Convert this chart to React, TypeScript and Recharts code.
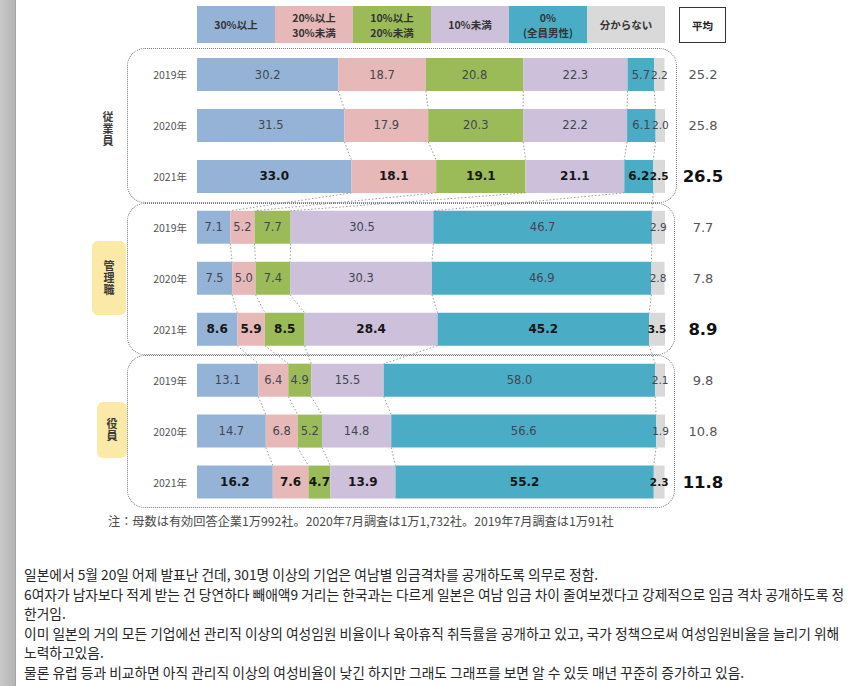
import React from 'react';
import { BarChart, Bar, XAxis, YAxis, LabelList, ReferenceLine } from 'recharts';

// ---------- data ----------
const rowIds = [
  '従業員-2019', '従業員-2020', '従業員-2021',
  '管理職-2019', '管理職-2020', '管理職-2021',
  '役員-2019', '役員-2020', '役員-2021',
];
const yearLabels = ['2019年', '2020年', '2021年', '2019年', '2020年', '2021年', '2019年', '2020年', '2021年'];
const groupLabels = ['従業員', '管理職', '役員'];

const over30 = [30.2, 31.5, 33.0, 7.1, 7.5, 8.6, 13.1, 14.7, 16.2];
const from20to30 = [18.7, 17.9, 18.1, 5.2, 5.0, 5.9, 6.4, 6.8, 7.6];
const from10to20 = [20.8, 20.3, 19.1, 7.7, 7.4, 8.5, 4.9, 5.2, 4.7];
const under10 = [22.3, 22.2, 21.1, 30.5, 30.3, 28.4, 15.5, 14.8, 13.9];
const zeroPct = [5.7, 6.1, 6.2, 46.7, 46.9, 45.2, 58.0, 56.6, 55.2];
const unknown = [2.2, 2.0, 2.5, 2.9, 2.8, 3.5, 2.1, 1.9, 2.3];
const averages = [25.2, 25.8, 26.5, 7.7, 7.8, 8.9, 9.8, 10.8, 11.8];

const seriesKeys = ['over30', 'from20to30', 'from10to20', 'under10', 'zeroPct', 'unknown'];
const seriesNames = ['30%以上', '20%以上\n30%未満', '10%以上\n20%未満', '10%未満', '0%\n(全員男性)', '分からない'];
const seriesColors = ['#95b3d7', '#e6b9b8', '#9bbb59', '#ccc0da', '#4bacc6', '#d9d9d9'];
const seriesValues = [over30, from20to30, from10to20, under10, zeroPct, unknown];

const averageTitle = '平均';
const noteText = '注：母数は有効回答企業1万992社。2020年7月調査は1万1,732社。2019年7月調査は1万91社';
const bodyLines = [
  '일본에서 5월 20일 어제 발표난 건데, 301명 이상의 기업은 여남별 임금격차를 공개하도록 의무로 정함.',
  '6여자가 남자보다 적게 받는 건 당연하다 빼애액9 거리는 한국과는 다르게 일본은 여남 임금 차이 줄여보겠다고 강제적으로 임금 격차 공개하도록 정',
  '한거임.',
  '이미 일본의 거의 모든 기업에선 관리직 이상의 여성임원 비율이나 육아휴직 취득률을 공개하고 있고, 국가 정책으로써 여성임원비율을 늘리기 위해',
  '노력하고있음.',
  '물론 유럽 등과 비교하면 아직 관리직 이상의 여성비율이 낮긴 하지만 그래도 그래프를 보면 알 수 있듯 매년 꾸준히 증가하고 있음.',
];

// ---------- derived table ----------
const data = rowIds.map((id, i) => {
  const row: any = { id, year: yearLabels[i], avg: averages[i] };
  seriesKeys.forEach((k, s) => { row[k] = seriesValues[s][i]; });
  return row;
});

const cumulative = (row: number, upto: number) => {
  let s = 0;
  for (let k = 0; k < upto; k++) s += seriesValues[k][row];
  return s;
};

const connectors: { x1: number; y1: string; x2: number; y2: string }[] = [];
for (let i = 0; i < rowIds.length - 1; i++) {
  for (let k = 1; k < seriesKeys.length; k++) {
    connectors.push({ x1: cumulative(i, k), y1: rowIds[i], x2: cumulative(i + 1, k), y2: rowIds[i + 1] });
  }
}

// ---------- style ----------
const BAR = 33;
const JP = '"Noto Sans CJK JP", "Noto Sans", sans-serif';
const NUM = '"DejaVu Sans", sans-serif';

const isBoldRow = (i: number) => i % 3 === 2;

const renderBarLabel = (props: any) => {
  const vb = props.viewBox || props;
  const x = Number(vb.x), y = Number(vb.y), w = Number(vb.width), h = Number(vb.height);
  const idx = props.index ?? 0;
  const bold = isBoldRow(idx);
  const narrow = w < 18;
  return (
    <text
      x={x + w / 2}
      y={y + h / 2}
      textAnchor="middle"
      dominantBaseline="central"
      fontFamily={NUM}
      fontSize={narrow ? 10.5 : bold ? 12 : 11.5}
      fontWeight={bold ? 'bold' : 'normal'}
      fill={bold ? '#161616' : '#424650'}
    >
      {Number(props.value).toFixed(1)}
    </text>
  );
};

const YearTick = (props: any) => {
  const { x, y, payload } = props;
  const idx = payload.index ?? rowIds.indexOf(payload.value);
  return (
    <text x={x} y={y} textAnchor="end" dominantBaseline="central" fontFamily={JP} fontSize={10.5} fill="#555">
      {yearLabels[idx]}
    </text>
  );
};

const AvgTick = (props: any) => {
  const { x, y, payload } = props;
  const idx = payload.index ?? rowIds.indexOf(payload.value);
  const bold = isBoldRow(idx);
  return (
    <text
      x={x + 38}
      y={y}
      textAnchor="middle"
      dominantBaseline="central"
      fontFamily={NUM}
      fontSize={bold ? 16.5 : 13}
      fontWeight={bold ? 'bold' : 'normal'}
      fill={bold ? '#111' : '#555'}
    >
      {averages[idx].toFixed(1)}
    </text>
  );
};

const connectorShape = (p: any) => (
  <line
    x1={p.x1}
    y1={p.y1 + BAR / 2}
    x2={p.x2}
    y2={p.y2 - BAR / 2}
    stroke="#9a9a9a"
    strokeWidth={1}
    strokeDasharray="1.5 2"
  />
);

const groupBoxes = [
  { left: 127, top: 48, width: 550, height: 155 },
  { left: 127, top: 203, width: 548, height: 152 },
  { left: 127, top: 355, width: 548, height: 153 },
];

const groupTags = [
  { left: 96, top: 108, width: 24, height: 42, bg: 'transparent' },
  { left: 92, top: 241, width: 34, height: 74, bg: '#fbe9a8' },
  { left: 97, top: 402, width: 30, height: 56, bg: '#fbe9a8' },
];

export default function App() {
  return (
    <div style={{ position: 'absolute', left: 0, top: 0, width: 850, height: 686, background: '#fff', overflow: 'hidden' }}>
      {/* left gray frame strip */}
      <div style={{ position: 'absolute', left: 0, top: 0, width: 15, height: 686, background: 'linear-gradient(to right, #c9c9c9, #b4b4b4)', borderRight: '1px solid #a5a5a5' }} />

      {/* legend */}
      <div style={{ position: 'absolute', left: 197, top: 6, width: 468, height: 37, display: 'flex' }}>
        {seriesNames.map((n, i) => (
          <div
            key={i}
            style={{
              flex: 1,
              background: seriesColors[i],
              display: 'flex',
              alignItems: 'center',
              justifyContent: 'center',
              textAlign: 'center',
              whiteSpace: 'pre-line',
              fontFamily: JP,
              fontSize: 10.5,
              fontWeight: 'bold',
              lineHeight: '15px',
              color: '#333',
            }}
          >
            {n}
          </div>
        ))}
      </div>
      <div
        style={{
          position: 'absolute', left: 679, top: 7, width: 45, height: 34,
          border: '1.5px solid #333', display: 'flex', alignItems: 'center', justifyContent: 'center',
          fontFamily: JP, fontSize: 10.5, fontWeight: 'bold', color: '#222', background: '#fff',
        }}
      >
        {averageTitle}
      </div>

      {/* group tags */}
      {groupTags.map((g, i) => (
        <div
          key={i}
          style={{
            position: 'absolute', left: g.left, top: g.top, width: g.width, height: g.height,
            background: g.bg, borderRadius: 6, display: 'flex', alignItems: 'center', justifyContent: 'center',
          }}
        >
          <span style={{ writingMode: 'vertical-rl', fontFamily: JP, fontSize: 11, fontWeight: 'bold', color: '#3a3a3a', letterSpacing: 1 }}>
            {groupLabels[i]}
          </span>
        </div>
      ))}

      {/* chart */}
      <div style={{ position: 'absolute', left: 0, top: 0 }}>
        <BarChart
          width={850}
          height={520}
          data={data}
          layout="vertical"
          margin={{ top: 49, right: 0, bottom: 12.5, left: 0 }}
          barSize={BAR}
        >
          <XAxis type="number" domain={[0, 100]} hide allowDataOverflow />
          <YAxis
            yAxisId="left"
            type="category"
            dataKey="id"
            width={197}
            axisLine={false}
            tickLine={false}
            tickSize={0}
            tickMargin={10}
            interval={0}
            tick={<YearTick />}
          />
          <YAxis
            yAxisId="right"
            orientation="right"
            type="category"
            dataKey="id"
            width={185}
            axisLine={false}
            tickLine={false}
            tickSize={0}
            tickMargin={0}
            interval={0}
            tick={<AvgTick />}
          />
          {seriesKeys.map((k, s) => (
            <Bar key={k} yAxisId="left" dataKey={k} stackId="a" fill={seriesColors[s]} isAnimationActive={false}>
              <LabelList dataKey={k} content={renderBarLabel} />
            </Bar>
          ))}
          {connectors.map((c, i) => (
            <ReferenceLine
              key={i}
              yAxisId="left"
              segment={[{ x: c.x1, y: c.y1 }, { x: c.x2, y: c.y2 }]}
              shape={connectorShape}
              ifOverflow="visible"
            />
          ))}
        </BarChart>
      </div>

      {/* dashed group outlines */}
      {groupBoxes.map((b, i) => (
        <div
          key={i}
          style={{
            position: 'absolute', left: b.left, top: b.top, width: b.width, height: b.height,
            border: '1.5px dotted #7a7a7a', borderRadius: 18, boxSizing: 'border-box', pointerEvents: 'none',
          }}
        />
      ))}

      {/* note */}
      <div style={{ position: 'absolute', left: 108, top: 512, fontFamily: JP, fontSize: 12.2, color: '#4a4a4a', whiteSpace: 'nowrap', lineHeight: '18px' }}>
        {noteText}
      </div>

      {/* Korean body text */}
      <div style={{ position: 'absolute', left: 24, top: 565, fontFamily: '"Noto Sans CJK KR", sans-serif', fontSize: 13.75, color: '#262626', lineHeight: '19.6px' }}>
        {bodyLines.map((l, i) => (
          <div key={i} style={{ whiteSpace: 'nowrap' }}>{l}</div>
        ))}
      </div>
    </div>
  );
}
